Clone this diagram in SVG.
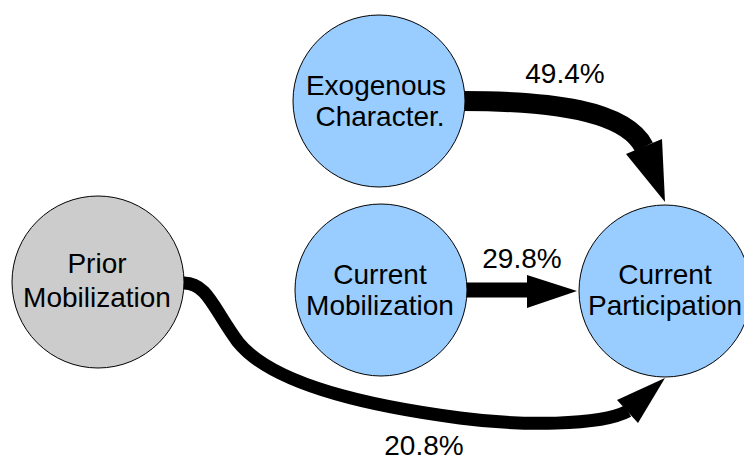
<svg xmlns="http://www.w3.org/2000/svg" width="744" height="459" viewBox="0 0 744 459">
  <style>
    .node { stroke: #000000; stroke-width: 1; }
    .blue { fill: #99ccff; }
    .grey { fill: #cccccc; }
    .label { font-family: "Liberation Sans", Arial, sans-serif; font-size: 28px; fill: #000000; text-anchor: middle; }
    .shaft { fill: none; stroke: #000000; stroke-linecap: butt; }
    .head { fill: #000000; stroke: none; }
  </style>
  <rect width="744" height="459" fill="#ffffff"/>

  <!-- connectors -->
  <g id="connectors">
    <!-- Exogenous Character. -> Current Participation -->
    <path class="shaft" stroke-width="20" d="M463,101 C550,101 625,110 644,147"/>
    <polygon class="head" points="626,154 662,139 665,202"/>
    <!-- Current Mobilization -> Current Participation -->
    <path class="shaft" stroke-width="15" d="M466,290 L530,290"/>
    <polygon class="head" points="527,275 577,291 527,308"/>
    <!-- Prior Mobilization -> Current Participation -->
    <path class="shaft" stroke-width="13" d="M183,283 C207,282 214,310 238,342 C270,382 360,405 460,418 C520,426 600,426 628,411"/>
    <polygon class="head" points="617,400 638,423 665,378"/>
  </g>

  <!-- nodes -->
  <g id="exogenous">
    <circle class="node blue" cx="379" cy="101" r="86"/>
    <text class="label" x="376" y="95">Exogenous</text>
    <text class="label" x="380" y="126">Character.</text>
  </g>
  <g id="current-mobilization">
    <circle class="node blue" cx="381" cy="290" r="86"/>
    <text class="label" x="380" y="284">Current</text>
    <text class="label" x="380" y="315">Mobilization</text>
  </g>
  <g id="current-participation">
    <circle class="node blue" cx="665" cy="291" r="86"/>
    <text class="label" x="665" y="284">Current</text>
    <text class="label" x="665" y="315">Participation</text>
  </g>
  <g id="prior-mobilization">
    <circle class="node grey" cx="98" cy="282" r="86"/>
    <text class="label" x="97" y="273">Prior</text>
    <text class="label" x="97" y="307">Mobilization</text>
  </g>

  <!-- path coefficients -->
  <g id="coefficients">
    <text class="label" x="565" y="83">49.4%</text>
    <text class="label" x="522" y="268">29.8%</text>
    <text class="label" x="424" y="455">20.8%</text>
  </g>
</svg>
